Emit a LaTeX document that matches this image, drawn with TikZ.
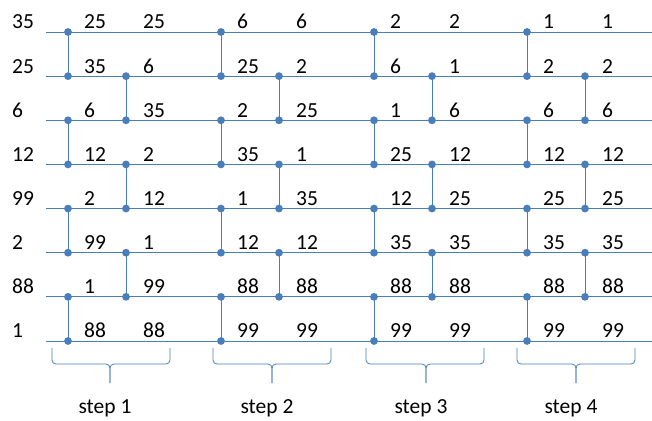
\documentclass[tikz,border=0pt]{standalone}
\usepackage{fontspec}
\setmainfont{Carlito}
\definecolor{blueA}{HTML}{4A7EBB}
\begin{document}
\begin{tikzpicture}[x=1pt,y=-1pt,
  wire/.style={draw=blueA, line width=0.9pt},
  dot/.style={circle, fill=blueA, inner sep=0pt, minimum size=7.8pt},
  num/.style={anchor=base west, inner sep=0pt, font=\fontsize{21.5}{24}\selectfont},
  steplabel/.style={anchor=base, inner sep=0pt, font=\fontsize{21.5}{24}\selectfont},
  bracepath/.style={draw=blueA, line width=0.8pt, rounded corners=4pt}]
\useasboundingbox (0,0) rectangle (652,420);
% horizontal wires
\foreach \i in {1,...,8} {
  \coordinate (ls\i) at (46,{32+44.14*(\i-1)});
  \coordinate (le\i) at (652,{32+44.14*(\i-1)});
  \draw[wire] (ls\i) -- (le\i);
}
% comparators
\foreach \s in {0,...,3} {
  \foreach \i in {1,3,5,7} {
    \pgfmathtruncatemacro\j{\i+1}
    \node[dot] (p\s-\i) at ({68+153*\s},{32+44.14*(\i-1)}) {};
    \node[dot] (p\s-\j) at ({68+153*\s},{32+44.14*(\j-1)}) {};
    \draw[wire] (p\s-\i.center) -- (p\s-\j.center);
  }
  \foreach \i in {2,4,6} {
    \pgfmathtruncatemacro\j{\i+1}
    \node[dot] (q\s-\i) at ({126+153*\s},{32+44.14*(\i-1)}) {};
    \node[dot] (q\s-\j) at ({126+153*\s},{32+44.14*(\j-1)}) {};
    \draw[wire] (q\s-\i.center) -- (q\s-\j.center);
  }
}
% numbers
\foreach \v [count=\i] in {35,25,6,12,99,2,88,1}
  \node[num] (c0-\i) at (12,{29+44.14*(\i-1)}) {\v};
\foreach \v [count=\i] in {25,35,6,12,2,99,1,88}
  \node[num] (c1-\i) at (84,{29+44.14*(\i-1)}) {\v};
\foreach \v [count=\i] in {25,6,35,2,12,1,99,88}
  \node[num] (c2-\i) at (143,{29+44.14*(\i-1)}) {\v};
\foreach \v [count=\i] in {6,25,2,35,1,12,88,99}
  \node[num] (c3-\i) at (237,{29+44.14*(\i-1)}) {\v};
\foreach \v [count=\i] in {6,2,25,1,35,12,88,99}
  \node[num] (c4-\i) at (296,{29+44.14*(\i-1)}) {\v};
\foreach \v [count=\i] in {2,6,1,25,12,35,88,99}
  \node[num] (c5-\i) at (390,{29+44.14*(\i-1)}) {\v};
\foreach \v [count=\i] in {2,1,6,12,25,35,88,99}
  \node[num] (c6-\i) at (449,{29+44.14*(\i-1)}) {\v};
\foreach \v [count=\i] in {1,2,6,12,25,35,88,99}
  \node[num] (c7-\i) at (543,{29+44.14*(\i-1)}) {\v};
\foreach \v [count=\i] in {1,2,6,12,25,35,88,99}
  \node[num] (c8-\i) at (602,{29+44.14*(\i-1)}) {\v};
% braces and step labels
\foreach \l/\t [count=\k] in {52/110, 213/272, 366/426, 517/576} {
  \coordinate (bl\k) at (\l,348);
  \coordinate (br\k) at ({\l+118},348);
  \coordinate (bt\k) at (\t,383);
  \draw[bracepath] (bl\k) -- (\l,364) -- (\t,364) -- (bt\k);
  \draw[bracepath] (br\k) -- ({\l+118},364) -- (\t,364) -- (bt\k);
  \node[steplabel] (st\k) at ({\t-5},413.5) {step \k};
}
\end{tikzpicture}
\end{document}
